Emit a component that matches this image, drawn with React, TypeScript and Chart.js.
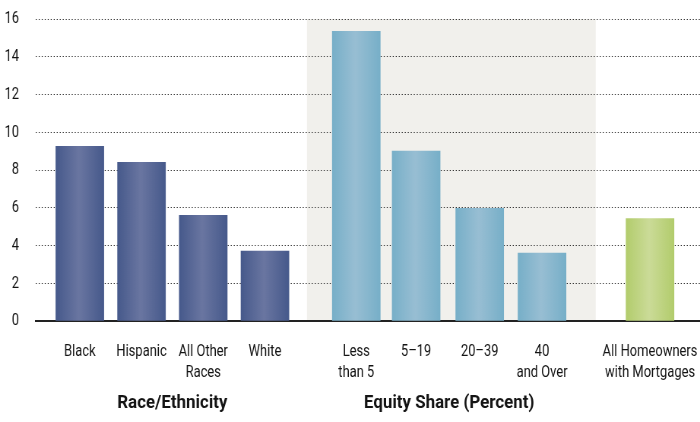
import React, { useEffect, useRef } from "react";
import { Chart, registerables } from "chart.js";

Chart.register(...registerables);

// ---- data ----
const categories: string[][] = [
  ["Black"],
  ["Hispanic"],
  ["All Other", "Races"],
  ["White"],
  ["Less", "than 5"],
  ["5\u201319"],
  ["20\u201339"],
  ["40", "and Over"],
  ["All Homeowners", "with Mortgages"],
];
const values: number[] = [9.25, 8.4, 5.6, 3.7, 15.35, 9.0, 5.97, 3.6, 5.43];
const groupNames: string[] = ["Race/Ethnicity", "Equity Share (Percent)"];
const groupMembers: number[][] = [
  [0, 1, 2, 3],
  [4, 5, 6, 7],
];
const yTicks: number[] = [0, 2, 4, 6, 8, 10, 12, 14, 16];

// ---- layout (slot positions on the x axis) ----
const slots: number[] = [1, 2, 3, 4, 5.48, 6.45, 7.48, 8.49, 10.24];
const xMin = 0.29;
const xMax = 11.05;
const shadeRange: [number, number] = [4.68, 9.36];
const groupOfBar: number[] = [0, 0, 0, 0, 1, 1, 1, 1, 2];
const barPalettes: [string, string][] = [
  ["#46598b", "#6a76a1"],
  ["#77afc8", "#98bed3"],
  ["#b2cc6c", "#cbdb98"],
];

// The reference uses a condensed typeface; draw on a wider backing canvas
// shown at 700px so text is condensed horizontally.
const CSS_W = 700;
const CSS_H = 422;
const SQUEEZE = 0.76;
const K = 1 / SQUEEZE;
const W = Math.round(CSS_W * K);

const FONT = "Roboto, 'Noto Sans', sans-serif";

export default function App() {
  const ref = useRef<HTMLCanvasElement | null>(null);

  useEffect(() => {
    document.body.style.margin = "0";
    const canvas = ref.current;
    if (!canvas) return;

    const shadePlugin = {
      id: "shade",
      beforeDraw(chart: any) {
        const { ctx, chartArea, scales } = chart;
        const x0 = scales.x.getPixelForValue(shadeRange[0]);
        const x1 = scales.x.getPixelForValue(shadeRange[1]);
        ctx.save();
        ctx.fillStyle = "#f1f0ec";
        ctx.fillRect(x0, chartArea.top, x1 - x0, chartArea.bottom - chartArea.top);
        ctx.restore();
      },
    };

    const groupLabelPlugin = {
      id: "groupLabels",
      afterDraw(chart: any) {
        const { ctx, scales } = chart;
        groupNames.forEach((name, gi) => {
          const mem = groupMembers[gi];
          const a = scales.x.getPixelForValue(slots[mem[0]]);
          const b = scales.x.getPixelForValue(slots[mem[mem.length - 1]]);
          ctx.save();
          ctx.translate((a + b) / 2, 408);
          ctx.scale(1.17, 1);
          ctx.font = `bold 19px ${FONT}`;
          ctx.fillStyle = "#141414";
          ctx.textAlign = "center";
          ctx.textBaseline = "alphabetic";
          ctx.fillText(name, 0, 0);
          ctx.restore();
        });
      },
    };

    const half = 24 * K;

    const chart = new Chart(canvas, {
      type: "bar",
      data: {
        datasets: [
          {
            data: values.map((v, i) => ({ x: slots[i], y: v })),
            barThickness: 48 * K,
            borderWidth: 0,
            backgroundColor: (c: any) => {
              const i = c.dataIndex;
              const pal = barPalettes[groupOfBar[i] ?? 0];
              const sx = c.chart.scales?.x;
              if (i == null || !sx) return pal[0];
              const xc = sx.getPixelForValue(slots[i]);
              if (!Number.isFinite(xc)) return pal[0];
              const g = c.chart.ctx.createLinearGradient(xc - half, 0, xc + half, 0);
              g.addColorStop(0, pal[0]);
              g.addColorStop(0.48, pal[1]);
              g.addColorStop(1, pal[0]);
              return g;
            },
          },
        ],
      },
      options: {
        responsive: false,
        animation: false,
        devicePixelRatio: 1,
        layout: { padding: { top: 19, right: 0, left: 0, bottom: 0 } },
        plugins: {
          legend: { display: false },
          tooltip: { enabled: false },
        },
        scales: {
          x: {
            type: "linear",
            min: xMin,
            max: xMax,
            offset: false,
            afterFit: (s: any) => {
              s.height = 101;
              s.paddingLeft = 0;
              s.paddingRight = 0;
            },
            afterBuildTicks: (s: any) => {
              s.ticks = slots.map((v) => ({ value: v }));
            },
            grid: { display: false, drawTicks: false },
            border: { display: true, color: "#222", width: 2 },
            ticks: {
              autoSkip: false,
              maxRotation: 0,
              minRotation: 0,
              padding: 20,
              color: "#141414",
              font: { family: FONT, size: 17, lineHeight: 21 / 17 },
              callback: (_v: any, idx: number) => categories[idx],
            },
          },
          y: {
            min: 0,
            max: 16,
            afterFit: (s: any) => {
              s.width = 36 * K;
              s.paddingTop = 0;
              s.paddingBottom = 0;
            },
            afterBuildTicks: (s: any) => {
              s.ticks = yTicks.map((v) => ({ value: v }));
            },
            grid: {
              drawTicks: false,
              color: (c: any) => (c.tick && c.tick.value === 0 ? "rgba(0,0,0,0)" : "#222"),
              lineWidth: 1,
            },
            border: { display: false, dash: [1 * K, 2 * K] },
            ticks: {
              padding: 17 * K,
              color: "#141414",
              font: { family: FONT, size: 17 },
            },
          },
        },
      },
      plugins: [shadePlugin, groupLabelPlugin],
    } as any);

    return () => chart.destroy();
  }, []);

  return (
    <div style={{ width: CSS_W, height: CSS_H }}>
      <canvas
        ref={ref}
        width={W}
        height={CSS_H}
        style={{ display: "block", width: CSS_W + "px", height: CSS_H + "px" }}
      />
    </div>
  );
}
